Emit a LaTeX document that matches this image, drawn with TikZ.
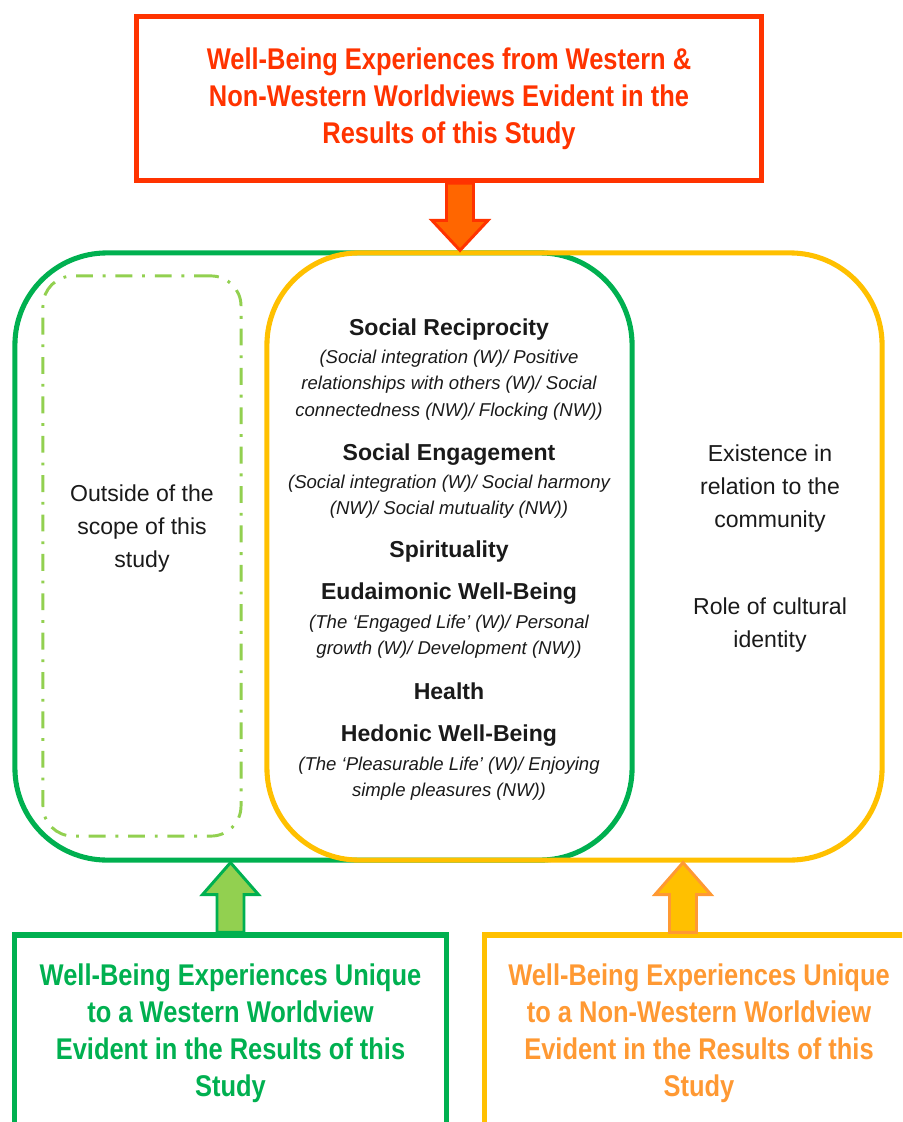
\documentclass[tikz,border=0pt]{standalone}
\usepackage{fontspec}
\setmainfont{Liberation Sans}
\newfontfamily\narrowfont[FakeStretch=0.85]{Liberation Sans}
\usetikzlibrary{positioning,calc}

\definecolor{titlered}{HTML}{FF3300}
\definecolor{arroworange}{HTML}{FF6600}
\definecolor{westgreen}{HTML}{00B050}
\definecolor{lightgreen}{HTML}{92D050}
\definecolor{nwyellow}{HTML}{FFC000}
\definecolor{nworange}{HTML}{FF9933}
\definecolor{ink}{HTML}{1A1A1A}

\newcommand{\titlefont}{\narrowfont\bfseries\fontsize{21.3}{26.3}\selectfont}
\newcommand{\bodyfont}{\fontsize{16.4}{23.5}\selectfont}
\newcommand{\notefont}{\itshape\fontsize{13.2}{18.9}\selectfont}

% block arrow: base, tip, head offset, fill, draw
\newcommand{\blockarrow}[5]{%
  \coordinate (hb) at ($(#2)+(0,#3)$);
  \draw[draw=#5, fill=#4, line width=2.1pt, line join=miter]
    ($(#1)+(-13.5,0)$) -- ($(hb)+(-13.5,0)$) -- ($(hb)+(-28,0)$) -- (#2)
    -- ($(hb)+(28,0)$) -- ($(hb)+(13.5,0)$) -- ($(#1)+(13.5,0)$) -- cycle;
}

\tikzset{
  ring/.style={draw, line width=3.6pt, rounded corners=2.3cm, inner sep=0pt,
    minimum height=15.175cm},
  titlebox/.style={draw, line width=3.6pt, inner sep=0pt, align=center, font=\titlefont},
  head/.style={anchor=base, text=ink, font=\bodyfont\bfseries},
  note/.style={anchor=base, text=ink, font=\notefont},
  plain/.style={align=center, text=ink, font=\bodyfont}
}

\begin{document}
\begin{tikzpicture}[x=0.025cm, y=-0.025cm]
  \useasboundingbox (0,0) rectangle (902,1122);
  \clip (0,0) rectangle (902,1122);

  % Rings
  \node[ring, westgreen, minimum width=15.425cm] (westring) at (323.5,556.5) {};
  \node[ring, nwyellow, minimum width=15.375cm] (nwring) at (574.5,556.5) {};
  \node[draw=lightgreen, line width=2.1pt, rounded corners=0.75cm,
    dash pattern=on 12pt off 7pt on 2pt off 7pt,
    minimum width=4.95cm, minimum height=14cm] (outside) at (142,556) {};

  % Boxes
  \node[titlebox, draw=titlered, text=titlered, minimum width=15.6cm, minimum height=4.1cm]
    (redbox) at (449,98.5)
    {Well-Being Experiences from Western \&\\Non-Western Worldviews Evident in the\\Results of this Study};
  \node[titlebox, draw=westgreen, text=westgreen, minimum width=10.8cm, minimum height=4.9cm]
    (westbox) at (230.5,1033)
    {Well-Being Experiences Unique\\to a Western Worldview\\Evident in the Results of this\\Study};
  \node[titlebox, draw=nwyellow, text=nworange, minimum width=10.7cm, minimum height=4.9cm]
    (nwbox) at (699,1033)
    {Well-Being Experiences Unique\\to a Non-Western Worldview\\Evident in the Results of this\\Study};

  % Arrows
  \coordinate (redbase) at ($(redbox.south)+(11,0)$);
  \coordinate (redtip) at (redbase |- nwring.north);
  \blockarrow{redbase}{redtip}{-30}{arroworange}{titlered}
  \coordinate (westbase) at (westbox.north);
  \coordinate (westtip) at (westbase |- westring.south);
  \blockarrow{westbase}{westtip}{32}{lightgreen}{westgreen}
  \coordinate (nwbase) at ($(nwbox.north)+(-16,0)$);
  \coordinate (nwtip) at (nwbase |- nwring.south);
  \blockarrow{nwbase}{nwtip}{32}{nwyellow}{nworange}

  % Outside text
  \node[plain] (scope) at (142,528.5) {Outside of the\\scope of this\\study};

  % Shared experiences
  \node[head] (recip) at (449,335) {Social Reciprocity};
  \node[note] (recipa) at (449,363) {(Social integration (W)/ Positive};
  \node[note] (recipb) at (449,389) {relationships with others (W)/ Social};
  \node[note] (recipc) at (449,416) {connectedness (NW)/ Flocking (NW))};
  \node[head] (engage) at (449,460) {Social Engagement};
  \node[note] (engagea) at (449,488) {(Social integration (W)/ Social harmony};
  \node[note] (engageb) at (449,514) {(NW)/ Social mutuality (NW))};
  \node[head] (spirit) at (449,557) {Spirituality};
  \node[head] (eudai) at (449,599) {Eudaimonic Well-Being};
  \node[note] (eudaia) at (449,628) {(The `Engaged Life' (W)/ Personal};
  \node[note] (eudaib) at (449,654) {growth (W)/ Development (NW))};
  \node[head] (health) at (449,699) {Health};
  \node[head] (hedon) at (449,741) {Hedonic Well-Being};
  \node[note] (hedona) at (449,770) {(The `Pleasurable Life' (W)/ Enjoying};
  \node[note] (hedonb) at (449,796) {simple pleasures (NW))};

  % Non-western only
  \node[plain] (exist) at (770,488.5) {Existence in\\relation to the\\community};
  \node[plain] (role) at (770,625.5) {Role of cultural\\identity};
\end{tikzpicture}
\end{document}
